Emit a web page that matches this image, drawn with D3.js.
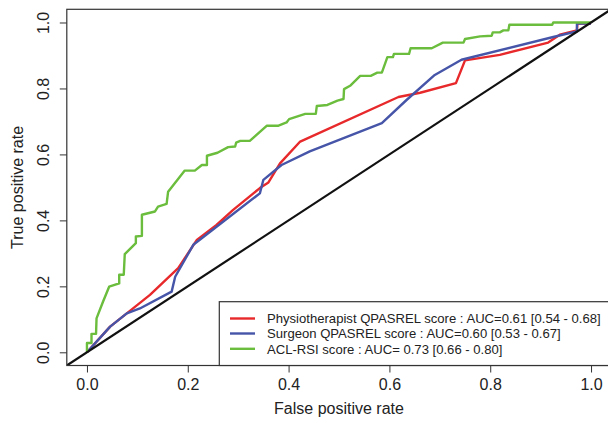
<!DOCTYPE html>
<html>
<meta charset="utf-8">
<title>roc curves</title>
<style>
html,body{
  margin:0;
  background:#fff;
}
svg text {
  font-family: "Liberation Sans", Arial, sans-serif;
  fill: #222;
}
</style>
<script src="https://d3js.org/d3.v7.min.js"></script>
<body>
<script>

// ROC points (false positive rate, true positive rate)
var physioFpr = [0, 0.046, 0.079, 0.125, 0.181, 0.218, 0.257, 0.290, 0.343, 0.360, 0.383, 0.423, 0.618, 0.661, 0.732, 0.750, 0.819, 0.915, 0.938, 0.972, 0.973, 1];
var physioTpr = [0, 0.078, 0.118, 0.174, 0.255, 0.341, 0.386, 0.432, 0.498, 0.515, 0.573, 0.639, 0.774, 0.787, 0.816, 0.885, 0.902, 0.939, 0.963, 0.976, 0.997, 0.997];

var surgeonFpr = [0, 0.046, 0.079, 0.105, 0.168, 0.175, 0.211, 0.343, 0.350, 0.386, 0.442, 0.585, 0.634, 0.690, 0.743, 0.925, 0.972, 0.972, 1];
var surgeonTpr = [0, 0.078, 0.118, 0.133, 0.184, 0.229, 0.326, 0.482, 0.523, 0.568, 0.609, 0.695, 0.765, 0.841, 0.887, 0.956, 0.973, 0.997, 0.997];

var aclFpr = [0, 0, 0.009, 0.009, 0.018, 0.019, 0.032, 0.044, 0.064, 0.064, 0.073, 0.075, 0.087, 0.097, 0.097, 0.109, 0.109,
  0.135, 0.141, 0.158, 0.161, 0.194, 0.214, 0.228, 0.238, 0.238, 0.259, 0.280, 0.294, 0.296, 0.304, 0.323,
  0.357, 0.380, 0.396, 0.401, 0.433, 0.454, 0.456, 0.477, 0.497, 0.509, 0.510, 0.522, 0.542, 0.563, 0.576, 0.585,
  0.596, 0.607, 0.609, 0.639, 0.642, 0.684, 0.706, 0.747, 0.750, 0.780, 0.803, 0.805, 0.819, 0.826, 0.836, 0.838,
  0.923, 0.925, 1];
var aclTpr = [0, 0.028, 0.028, 0.056, 0.056, 0.103, 0.154, 0.199, 0.209, 0.235, 0.235, 0.298, 0.316, 0.331, 0.351, 0.353, 0.417,
  0.427, 0.442, 0.450, 0.487, 0.551, 0.551, 0.568, 0.568, 0.596, 0.605, 0.622, 0.624, 0.636, 0.641, 0.641,
  0.687, 0.687, 0.697, 0.707, 0.723, 0.723, 0.747, 0.750, 0.763, 0.768, 0.798, 0.808, 0.838, 0.838, 0.848, 0.848,
  0.895, 0.895, 0.905, 0.905, 0.922, 0.922, 0.939, 0.939, 0.950, 0.958, 0.960, 0.970, 0.970, 0.976, 0.976, 0.993,
  0.993, 1, 1];

var seriesNames = ["Physiotherapist QPASREL score : AUC=0.61 [0.54 - 0.68]",
                   "Surgeon QPASREL score : AUC=0.60 [0.53 - 0.67]",
                   "ACL-RSI score : AUC= 0.73 [0.66 - 0.80]"];
var seriesColors = ["#e8292b", "#4655a8", "#6bbd3d"];
var tickValues = [0, 0.2, 0.4, 0.6, 0.8, 1.0];

var width = 608, height = 423;

var svg = d3.select("body").append("svg")
    .attr("width", width)
    .attr("height", height);

// R style plot region: data range stretched by 4% on each side
var x = d3.scaleLinear().domain([-0.04, 1.04]).range([66.8, 611.2]);
var y = d3.scaleLinear().domain([-0.04, 1.04]).range([365.5, 9.3]);

svg.append("clipPath").attr("id", "plotclip")
  .append("rect")
    .attr("x", x(-0.04)).attr("y", y(1.04))
    .attr("width", x(1.04) - x(-0.04))
    .attr("height", y(-0.04) - y(1.04));

var plot = svg.append("g").attr("clip-path", "url(#plotclip)");

var line = d3.line()
    .x(function(d){ return x(d[0]); })
    .y(function(d){ return y(d[1]); });

var series = [
  d3.zip(physioFpr, physioTpr),
  d3.zip(surgeonFpr, surgeonTpr),
  d3.zip(aclFpr, aclTpr)
];

plot.selectAll("path.roc")
    .data(series)
  .enter().append("path")
    .attr("class", "roc")
    .attr("d", line)
    .attr("fill", "none")
    .attr("stroke", function(d, i){ return seriesColors[i]; })
    .attr("stroke-width", 2.4)
    .attr("stroke-linejoin", "round");

// chance diagonal across the whole region
plot.append("path")
    .attr("d", line([[-0.04, -0.04], [1.04, 1.04]]))
    .attr("stroke", "#111")
    .attr("stroke-width", 2.2);

// axes
var xAxis = svg.append("g")
    .attr("transform", "translate(0," + y(-0.04) + ")")
    .call(d3.axisBottom(x).tickValues(tickValues).tickSize(7).tickPadding(6).tickFormat(d3.format(".1f")));
var yAxis = svg.append("g")
    .attr("transform", "translate(" + x(-0.04) + ",0)")
    .call(d3.axisLeft(y).tickValues(tickValues).tickSize(7).tickFormat(d3.format(".1f")));

svg.selectAll(".domain").remove();
svg.selectAll(".tick line").attr("stroke", "#333");
xAxis.selectAll("text").attr("font-size", 16).attr("fill", "#222");
yAxis.selectAll("text")
    .attr("font-size", 16).attr("fill", "#222")
    .attr("text-anchor", "middle")
    .attr("transform", "rotate(-90)")
    .attr("x", 0).attr("y", -17.5).attr("dy", 0);

// box
svg.append("rect")
    .attr("x", x(-0.04)).attr("y", y(1.04))
    .attr("width", x(1.04) - x(-0.04))
    .attr("height", y(-0.04) - y(1.04))
    .attr("fill", "none")
    .attr("stroke", "#333")
    .attr("stroke-width", 1.2);

// axis titles
svg.append("text")
    .attr("x", (x(-0.04) + x(1.04)) / 2)
    .attr("y", 414)
    .attr("text-anchor", "middle")
    .attr("font-size", 16)
    .text("False positive rate");
svg.append("text")
    .attr("transform", "translate(23," + (y(-0.04) + y(1.04)) / 2 + ") rotate(-90)")
    .attr("text-anchor", "middle")
    .attr("font-size", 16)
    .text("True positive rate");

// legend in bottom right corner
var legend = svg.append("g");
legend.append("rect")
    .attr("x", 219.3).attr("y", 301.7)
    .attr("width", x(1.04) - 219.3)
    .attr("height", y(-0.04) - 301.7)
    .attr("fill", "#fff")
    .attr("stroke", "#333")
    .attr("stroke-width", 1.2);

var rows = [318.5, 333.5, 348.8];
var item = legend.selectAll("g.item")
    .data(seriesNames)
  .enter().append("g")
    .attr("class", "item")
    .attr("transform", function(d, i){ return "translate(0," + rows[i] + ")"; });
item.append("line")
    .attr("x1", 230).attr("x2", 255)
    .attr("stroke", function(d, i){ return seriesColors[i]; })
    .attr("stroke-width", 2.4);
item.append("text")
    .attr("x", 267).attr("y", 4.8)
    .attr("font-size", 13.1)
    .text(function(d){ return d; });

</script>
</body>
</html>
